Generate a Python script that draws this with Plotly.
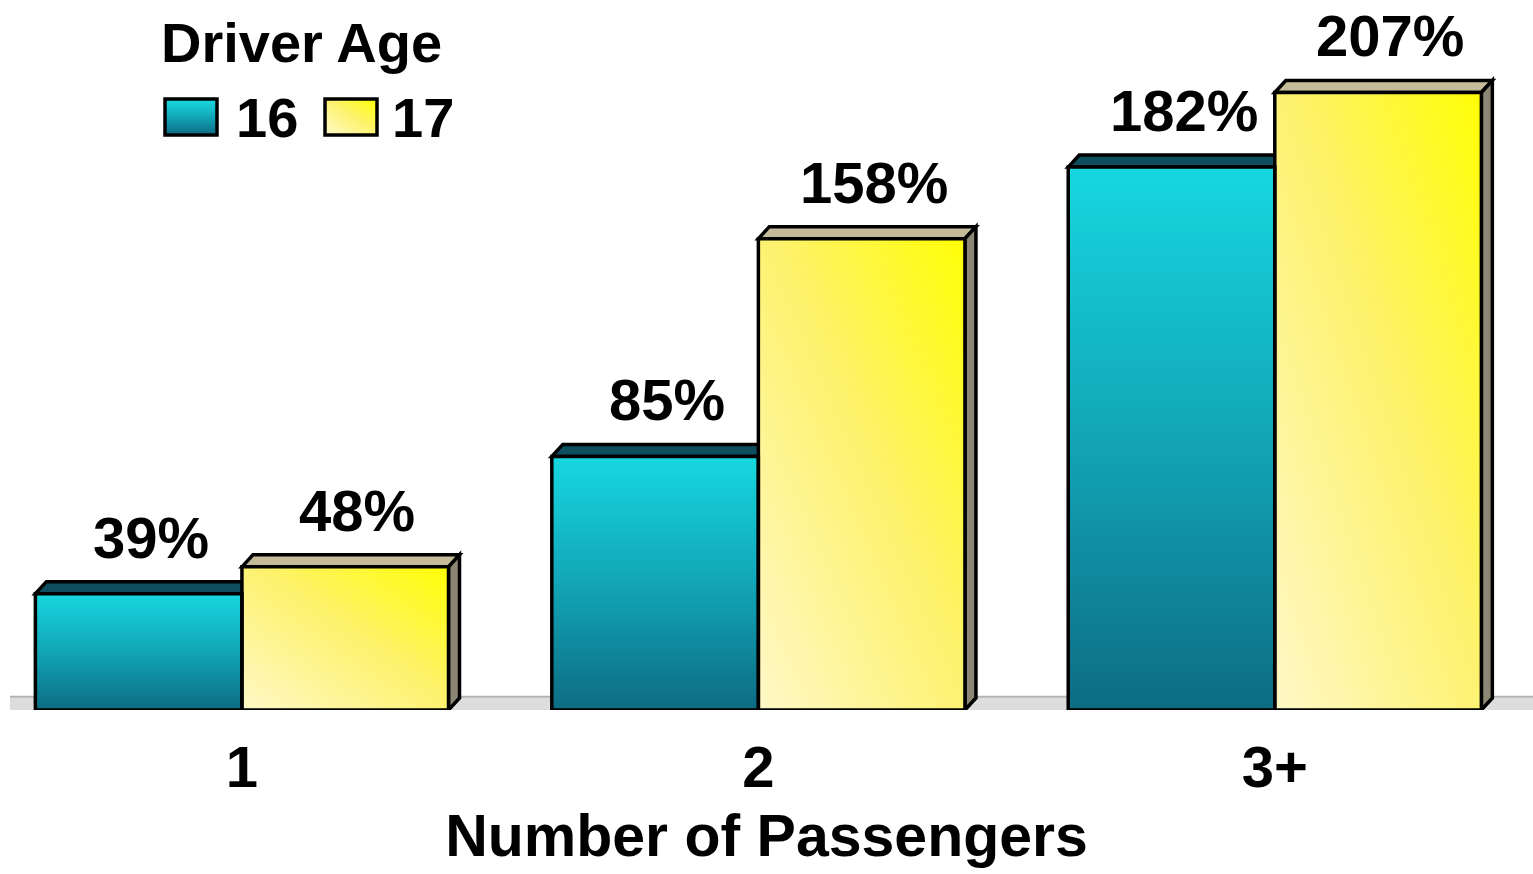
import base64
import plotly.graph_objects as go

categories = ["1", "2", "3+"]
series_names = ["16", "17"]
age16 = [39, 85, 182]
age17 = [48, 158, 207]
labels16 = ["39%", "85%", "182%"]
labels17 = ["48%", "158%", "207%"]

W, H = 1533, 874
PLOT_BOTTOM = 710
YMAX = 238.0
XR = [-0.4685, 2.5]

FONT = "Liberation Sans, Arial, sans-serif"
TEAL = "#14a3b4"
YELLOW = "#fdf46c"
TEAL_TOP = "#0d4f5e"
YEL_TOP = "#c4bc98"
YEL_SIDE = "#8c8674"
LW = 3.5


def svg_uri(svg):
    return "data:image/svg+xml;base64," + base64.b64encode(svg.encode()).decode()


TEAL_GRAD = svg_uri(
    "<svg xmlns='http://www.w3.org/2000/svg' width='100' height='100' preserveAspectRatio='none'>"
    "<defs><linearGradient id='g' x1='0' y1='0' x2='0' y2='1'>"
    "<stop offset='0' stop-color='#18dbe2'/><stop offset='0.5' stop-color='#12a6b8'/>"
    "<stop offset='1' stop-color='#0d6a80'/></linearGradient></defs>"
    "<rect width='100' height='100' fill='url(#g)'/></svg>")
YEL_GRAD = svg_uri(
    "<svg xmlns='http://www.w3.org/2000/svg' width='100' height='100' preserveAspectRatio='none'>"
    "<defs><linearGradient id='g' x1='0' y1='1' x2='1' y2='0'>"
    "<stop offset='0' stop-color='#fff9cc'/><stop offset='0.55' stop-color='#fdf36a'/>"
    "<stop offset='1' stop-color='#ffff00'/></linearGradient></defs>"
    "<rect width='100' height='100' fill='url(#g)'/></svg>")

bargap = 0.2
xunit_px = W / (XR[1] - XR[0])
yunit_px = PLOT_BOTTOM / YMAX
depth_px_x, depth_px_y = 11, 12
dx = depth_px_x / xunit_px
dy = depth_px_y / yunit_px
bw = (1 - bargap) / 2
xpos = list(range(len(categories)))

fig = go.Figure()
fig.add_trace(go.Bar(x=xpos, y=age16, name=series_names[0],
                     marker=dict(color="rgba(20,163,180,0.05)", line=dict(color="black", width=LW))))
fig.add_trace(go.Bar(x=xpos, y=age17, name=series_names[1],
                     marker=dict(color="rgba(253,244,108,0.05)", line=dict(color="black", width=LW))))

shapes = []
images = []
# floor
shapes.append(dict(type="rect", xref="paper", yref="y", x0=10 / W, x1=1, y0=0, y1=dy * 1.1,
                   fillcolor="#dddddd", line=dict(width=0), layer="below"))
shapes.append(dict(type="line", xref="paper", yref="y", x0=10 / W, x1=1, y0=dy * 1.1, y1=dy * 1.1,
                   line=dict(color="#b4b4b4", width=2), layer="below"))

annotations = []
for i in xpos:
    for j, (vals, labs, topc, grad) in enumerate([(age16, labels16, TEAL_TOP, TEAL_GRAD),
                                                  (age17, labels17, YEL_TOP, YEL_GRAD)]):
        v = vals[i]
        x0 = i - bw + j * bw
        x1 = x0 + bw
        images.append(dict(source=grad, xref="x", yref="y", x=x0, y=v, sizex=bw, sizey=v,
                           xanchor="left", yanchor="top", sizing="stretch", layer="below"))
        path = f"M {x0},{v} L {x0+dx},{v+dy} L {x1+dx},{v+dy} L {x1},{v} Z"
        shapes.append(dict(type="path", xref="x", yref="y", path=path, fillcolor=topc,
                           line=dict(color="black", width=LW), layer="below"))
        if j == 1:
            side = f"M {x1},0 L {x1+dx},{dy} L {x1+dx},{v+dy} L {x1},{v} Z"
            shapes.append(dict(type="path", xref="x", yref="y", path=side, fillcolor=YEL_SIDE,
                               line=dict(color="black", width=LW), layer="below"))
        annotations.append(dict(x=(x0 + x1) / 2, y=v, xref="x", yref="y",
                                text=labs[i], showarrow=False, yanchor="bottom",
                                xshift=12, yshift=22,
                                font=dict(family=FONT, size=58, color="black", weight="bold")))


def px(x):
    return x / W


def py(y):
    return (PLOT_BOTTOM - y) / PLOT_BOTTOM


# legend drawn by hand so the swatches can match the original size
annotations.append(dict(xref="paper", yref="paper", x=px(159), y=py(42), xanchor="left", yanchor="middle",
                        text="Driver Age", showarrow=False,
                        font=dict(family=FONT, size=56, color="black", weight="bold")))
leg_grads = [TEAL_GRAD, YEL_GRAD]
sw_x = [165, 325]
txt_x = [234, 390]
for k in range(2):
    images.append(dict(source=leg_grads[k], xref="paper", yref="paper", x=px(sw_x[k]), y=py(99),
                       sizex=px(52), sizey=py(99) - py(135), xanchor="left", yanchor="top",
                       sizing="stretch", layer="above"))
    shapes.append(dict(type="rect", xref="paper", yref="paper", x0=px(sw_x[k]), x1=px(sw_x[k] + 52),
                       y0=py(135), y1=py(99), fillcolor="rgba(0,0,0,0)", line=dict(color="black", width=LW)))
    annotations.append(dict(xref="paper", yref="paper", x=px(txt_x[k]), y=py(117), xanchor="left",
                            yanchor="middle", text=series_names[k], showarrow=False,
                            font=dict(family=FONT, size=56, color="black", weight="bold")))

fig.update_layout(
    width=W, height=H,
    margin=dict(l=0, r=0, t=0, b=H - PLOT_BOTTOM),
    paper_bgcolor="white", plot_bgcolor="white",
    barmode="group", bargap=bargap, bargroupgap=0,
    showlegend=False,
    shapes=shapes, annotations=annotations, images=images,
    xaxis=dict(range=XR, showgrid=False, zeroline=False, showline=False, ticks="",
               tickmode="array", tickvals=xpos, ticktext=categories,
               ticklabelstandoff=18,
               tickfont=dict(family=FONT, size=58, color="black", weight="bold"),
               title=dict(text="Number of Passengers", standoff=16,
                          font=dict(family=FONT, size=59, color="black", weight="bold"))),
    yaxis=dict(range=[0, YMAX], visible=False, showgrid=False, zeroline=False),
)

fig.write_html("out.html")
